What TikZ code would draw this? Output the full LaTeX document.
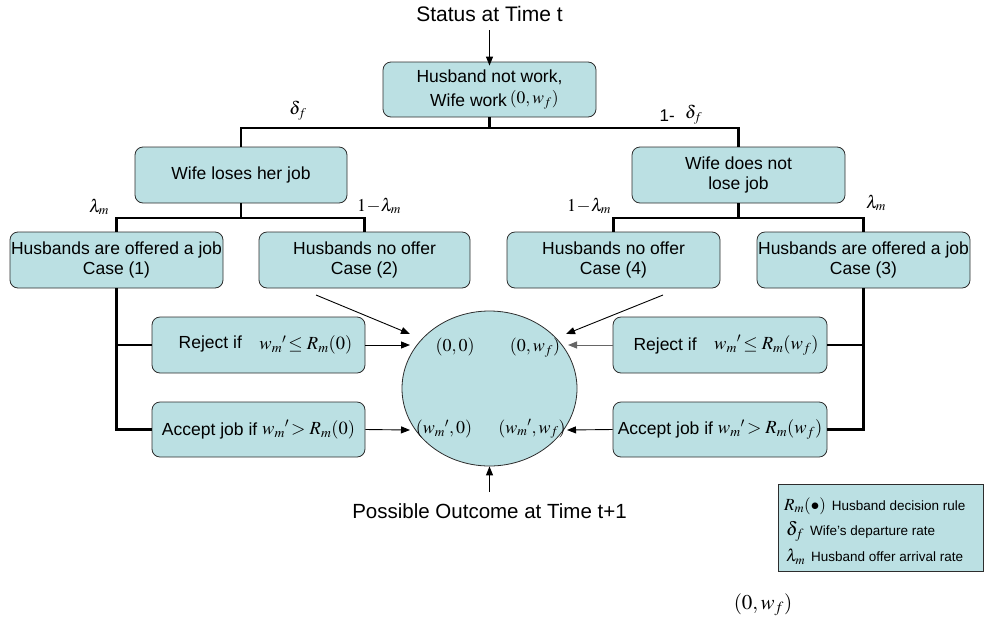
\documentclass[tikz,border=0pt]{standalone}
\usepackage{mathptmx}
\usepackage{fontspec}
\setmainfont{Liberation Sans}
\usetikzlibrary{arrows.meta,shapes.geometric}
\definecolor{boxfill}{RGB}{187,224,227}
\definecolor{edgecol}{RGB}{45,45,45}
\begin{document}
\begin{tikzpicture}[x=1pt,y=-1pt,
  box/.style={draw=edgecol, fill=boxfill, rounded corners=8pt, line width=0.8pt, inner sep=0pt, align=center,
     minimum width=213pt, minimum height=56pt, font=\fontsize{17.5}{19.5}\selectfont},
  txt/.style={inner sep=0pt, font=\fontsize{17.5}{19.5}\selectfont},
  mlab/.style={inner sep=0pt, font=\fontsize{18}{20}\selectfont},
  tree/.style={line width=2.8pt},
  arr/.style={line width=0.9pt, -{Triangle[length=9pt,width=7pt]}},
  leg/.style={inner sep=0pt, anchor=west, font=\fontsize{13.5}{15}\selectfont}]
\useasboundingbox (0,0) rectangle (984,627);

% title
\node[inner sep=0pt, font=\fontsize{21}{24}\selectfont] (status) at (489.5,14) {Status at Time t};
\node[box, minimum height=55pt] (top) at (489.5,89.5) {};
\node[txt] (topa) at (489.5,77) {Husband not work,};
\node[txt, anchor=west] (topb) at (430,100) {Wife work\,\raisebox{3pt}{$(0,w_f)$}};

% level 2
\node[box, minimum width=212pt] (loses) at (241,175) {Wife loses her job};
\node[box] (notlose) at (738.5,175) {Wife does not\\ lose job};

% level 3
\node[box] (c1) at (116.5,260) {Husbands are offered a job\\ Case (1)};
\node[box, minimum width=211pt] (c2) at (364.5,260) {Husbands no offer\\ Case (2)};
\node[box] (c4) at (613.5,260) {Husbands no offer\\ Case (4)};
\node[box] (c3) at (863.5,260) {Husbands are offered a job\\ Case (3)};

% decision boxes
\node[box] (rejL) at (258.5,345) {\hspace*{14pt}\raisebox{4pt}{Reject if}\quad\raisebox{3pt}{\fontsize{18.5}{20}\selectfont$w_m{}'\!\le R_m(0)$}};
\node[box, minimum height=55pt] (accL) at (258.5,429.5) {Accept job if \raisebox{1pt}{\fontsize{18.5}{20}\selectfont$w_m{}'\!> R_m(0)$}};
\node[box, minimum width=214pt] (rejR) at (720,345) {\hspace*{12pt}\raisebox{2pt}{Reject if}\quad\raisebox{3pt}{\fontsize{18.5}{20}\selectfont$w_m{}'\!\le R_m(w_f)$}};
\node[box, minimum width=214pt, minimum height=55pt] (accR) at (720,429.5) {Accept job if \raisebox{1pt}{\fontsize{18.5}{20}\selectfont$w_m{}'\!> R_m(w_f)$}};

% outcome ellipse
\node[ellipse, draw=edgecol, fill=boxfill, line width=0.8pt, minimum width=175pt, minimum height=155pt, inner sep=0pt] (circ) at (489.5,388.5) {};
\node[mlab] (o00) at (455,347) {$(0,0)$};
\node[mlab] (o0w) at (535,348) {$(0,w_f)$};
\node[mlab] (ow0) at (444,429) {$(w_m{}',0)$};
\node[mlab] (oww) at (532,429) {$(w_m{}',w_f)$};

\node[inner sep=0pt, font=\fontsize{20.5}{24}\selectfont] (outcome) at (489.5,511) {Possible Outcome at Time t+1};

% tree
\coordinate (b1) at (489.5,128);
\coordinate (b2) at (241,218);
\coordinate (b3) at (738.5,218);
\draw[tree] (top.south) -- (b1);
\draw[tree] (loses.north) |- (b1) -| (notlose.north);
\draw[tree] (loses.south) -- (b2);
\draw[tree] (c1.north) |- (b2) -| (c2.north);
\draw[tree] (notlose.south) -- (b3);
\draw[tree] (c4.north) |- (b3) -| (c3.north);
\draw[tree] (c1.south) |- (accL.west);
\draw[tree] (rejL.west) -- (c1.south |- rejL.west);
\draw[tree] (c3.south) |- (accR.east);
\draw[tree] (rejR.east) -- (c3.south |- rejR.east);

% probability labels
\node[mlab] (ldf) at (298,111) {$\delta_f$};
\node[inner sep=0pt] (lndf) at (681,115) {\fontsize{17}{18}\selectfont 1-\,\, \raisebox{3pt}{\fontsize{18}{20}\selectfont$\delta_f$}};
\node[mlab] (ll1) at (99,207) {$\lambda_m$};
\node[mlab] (ll2) at (379,206) {$1\!-\!\lambda_m$};
\node[mlab] (ll4) at (589,206) {$1\!-\!\lambda_m$};
\node[mlab] (ll3) at (876,203) {$\lambda_m$};

% arrows
\coordinate (s0) at (489.5,30);
\draw[arr] (s0) -- ([yshift=-4pt]top.north);
\coordinate (u0) at (489.5,492);
\draw[arr] (u0) -- (circ.south);
\coordinate (a2s) at (316,295);
\coordinate (a2e) at (410,334);
\draw[arr] (a2s) -- (a2e);
\coordinate (a4s) at (663,295);
\coordinate (a4e) at (566,334);
\draw[arr] (a4s) -- (a4e);
\coordinate (rl) at (410,345);
\coordinate (al) at (410,430);
\coordinate (rr) at (568,345);
\coordinate (ar) at (567,430);
\draw[arr] (rejL.east) -- (rl);
\draw[arr] (accL.east) -- (al);
\draw[arr, draw=gray!80!black, fill=gray!80!black] (rejR.west) -- (rr);
\draw[arr] (accR.west) -- (ar);

% legend
\node[draw=edgecol, fill=boxfill, line width=0.8pt, minimum width=205pt, minimum height=87pt, inner sep=0pt] (legend) at (880.5,527.5) {};
\node[leg] (lg1) at (784,506) {{\fontsize{17}{19}\selectfont$R_m(\bullet)$}\, Husband decision rule};
\node[leg] (lg2) at (786,531) {{\fontsize{19}{19}\selectfont$\delta_f$}\, Wife's departure rate};
\node[leg] (lg3) at (786,557) {{\fontsize{17}{19}\selectfont$\lambda_m$}\, Husband offer arrival rate};

\node[inner sep=0pt, font=\fontsize{21}{24}\selectfont] (stray) at (763,605) {$(0,w_f)$};
\end{tikzpicture}
\end{document}
